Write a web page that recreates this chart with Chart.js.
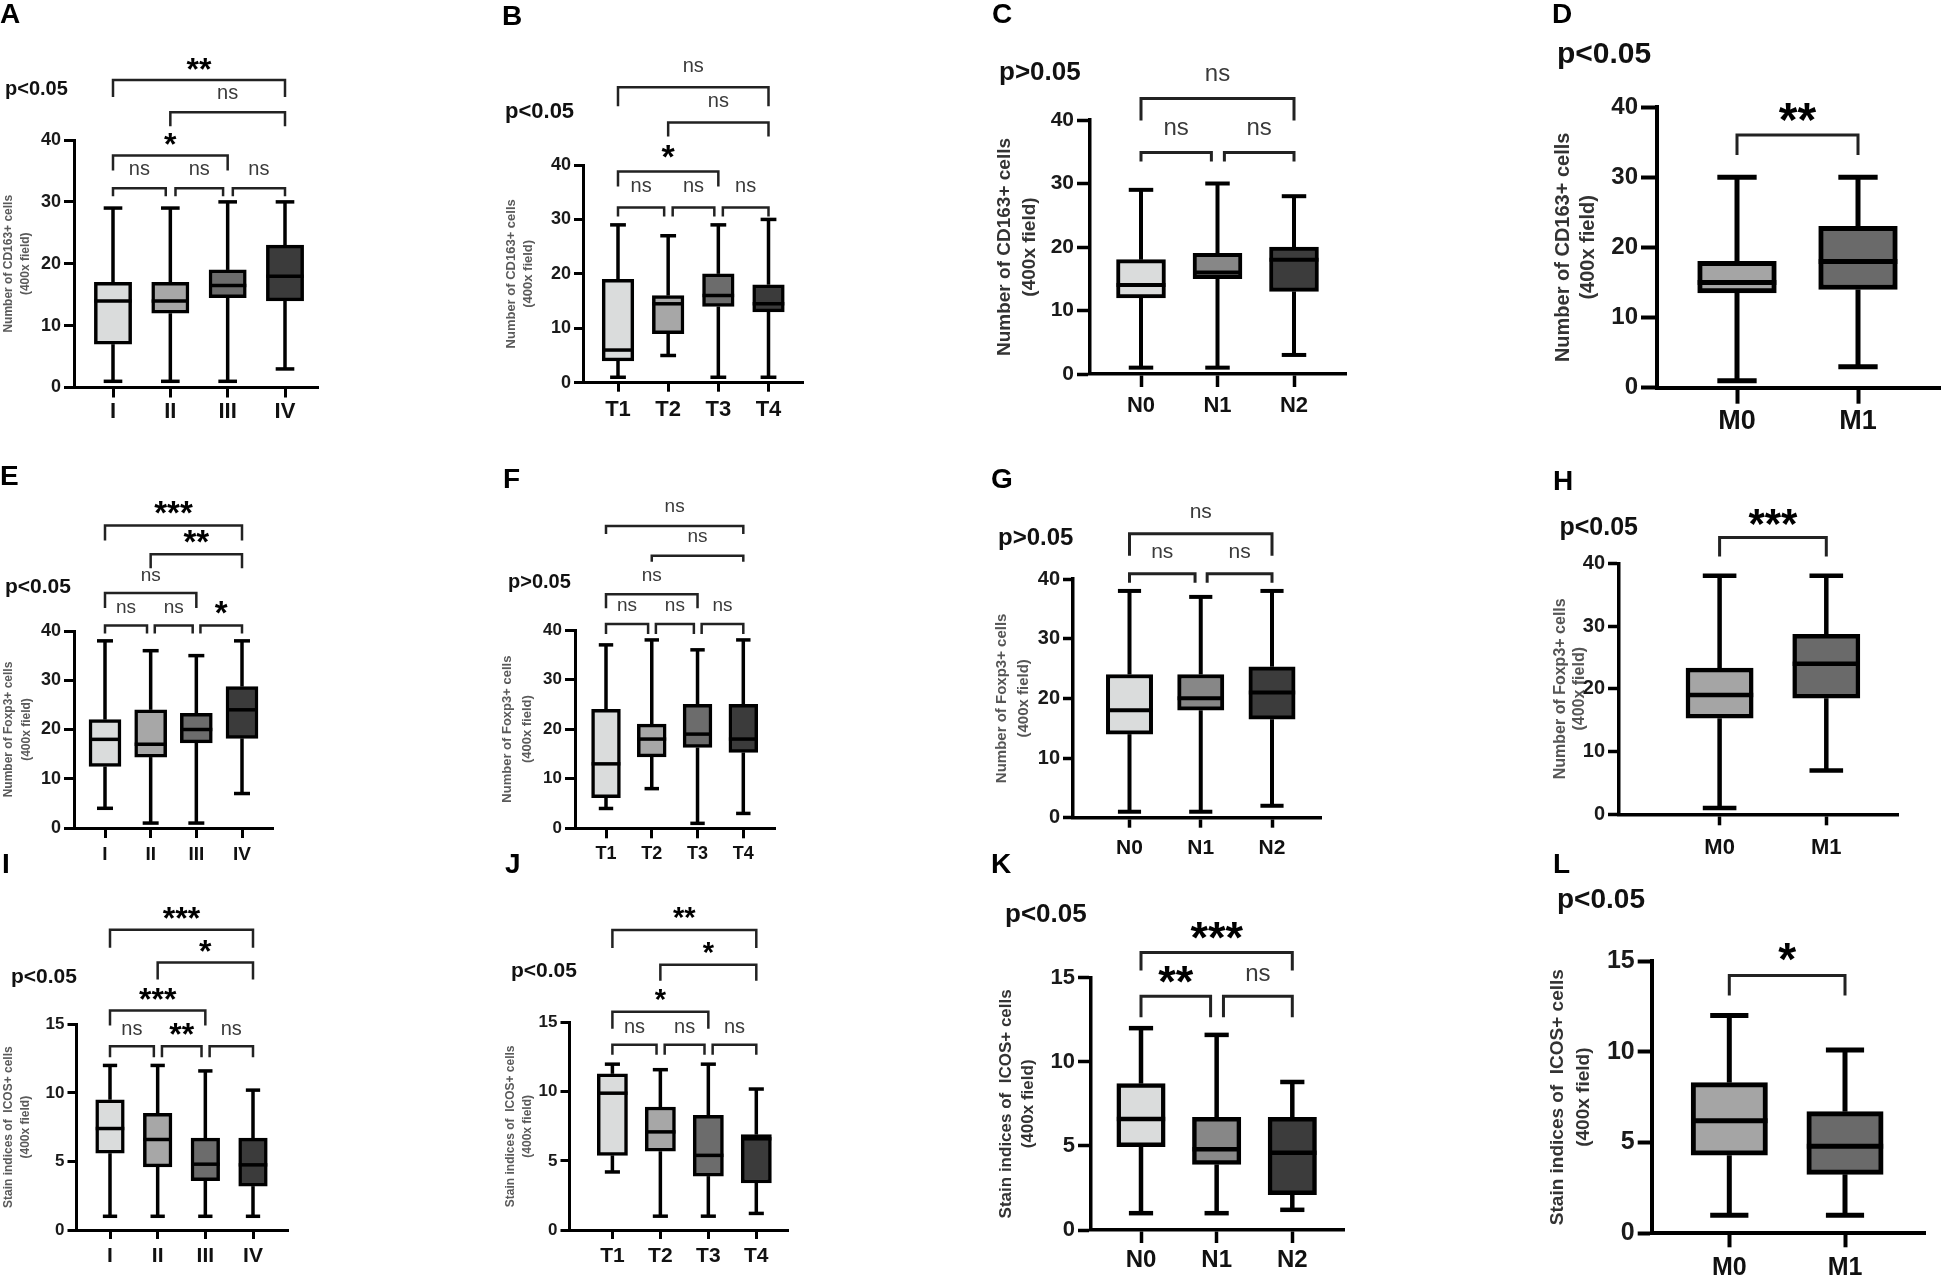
<!DOCTYPE html>
<html>
<head>
<meta charset="utf-8">
<script src="https://cdn.jsdelivr.net/npm/chart.js@4.4.1/dist/chart.umd.min.js"></script>
<style>
  body { margin: 0; background: #fff; width: 1944px; height: 1277px; position: relative; overflow: hidden; }
  canvas { position: absolute; }
</style>
</head>
<body>
<script>
// Box plots of CD163+, Foxp3+ and ICOS+ cells by stage / T / N / M
// every group is [min, q1, median, q3, max]

const stageLabels = ['I', 'II', 'III', 'IV'];
const tLabels = ['T1', 'T2', 'T3', 'T4'];
const nLabels = ['N0', 'N1', 'N2'];
const mLabels = ['M0', 'M1'];

const countTicks = [0, 10, 20, 30, 40];
const icosTicks = [0, 5, 10, 15];

const cd163Title = ['Number of CD163+ cells', '(400x field)'];
const foxTitle = ['Number of Foxp3+ cells', '(400x field)'];
const icosTitle = ['Stain indices of  ICOS+ cells', '(400x field)'];

const cd163Stage = [[1, 7, 14, 17, 29], [1, 12, 14, 17, 29], [1, 14.5, 16.5, 19, 30], [3, 14, 18, 23, 30]];
const cd163T = [[1, 4, 6, 19, 29], [5, 9, 14.5, 16, 27], [1, 14, 16, 20, 29], [1, 13, 14.5, 18, 30]];
const cd163N = [[1, 12, 14, 18, 29], [1, 15, 16, 19, 30], [3, 13, 18, 20, 28]];
const cd163M = [[1, 13.5, 15, 18, 30], [3, 14, 18, 23, 30]];

const foxStage = [[4, 12.5, 18, 22, 38], [1, 14.4, 17, 24, 36], [1, 17.3, 20, 23.3, 35], [7, 18.2, 24, 28.7, 38]];
const foxT = [[4, 6.2, 13, 24, 37], [8, 14.4, 18, 21, 38], [1, 16.3, 19, 25, 36], [3, 15.3, 18, 25, 38]];
const foxN = [[1, 14, 18, 24, 38], [1, 18, 20, 24, 37], [2, 16.5, 21, 25.3, 38]];
const foxM = [[1, 15.3, 19, 23.3, 38], [7, 18.5, 24, 28.7, 38]];

const icosStage = [[1, 5.6, 7.4, 9.5, 12], [1, 4.6, 6.6, 8.5, 12], [1, 3.6, 4.8, 6.7, 11.6], [1, 3.2, 4.75, 6.7, 10.2]];
const icosT = [[4.2, 5.4, 9.9, 11.3, 12], [1, 5.7, 7.1, 8.9, 11.6], [1, 3.9, 5.4, 8.3, 12], [1.2, 3.4, 6.6, 6.9, 10.2]];
const icosN = [[1, 4.95, 6.6, 8.7, 12], [1, 3.9, 4.8, 6.7, 11.6], [1.2, 2.1, 4.6, 6.7, 8.8]];
const icosM = [[1, 4.3, 6.2, 8.3, 12], [1, 3.25, 4.8, 6.7, 10.1]];

// significance brackets: [from group, to group, label, height in axis units]
const cd163StageSig = [[0, 3, '**', 49.7], [1, 3, 'ns', 44.5], [0, 2, '*', 37.5], [0, 1, 'ns', 32.2], [1, 2, 'ns', 32.2], [2, 3, 'ns', 32.2]];
const cd163TSig = [[0, 3, 'ns', 54.3], [1, 3, 'ns', 47.8], [0, 2, '*', 38.8], [0, 1, 'ns', 32.2], [1, 2, 'ns', 32.2], [2, 3, 'ns', 32.2]];
const cd163NSig = [[0, 2, 'ns', 43.4], [0, 1, 'ns', 34.9], [1, 2, 'ns', 34.9]];
const cd163MSig = [[0, 1, '**', 36]];
const foxStageSig = [[0, 3, '***', 61.4], [1, 3, '**', 55.6], [0, 2, 'ns', 47.7], [0, 1, 'ns', 41.1], [1, 2, 'ns', 41.1], [2, 3, '*', 41.1]];
const foxTSig = [[0, 3, 'ns', 61.0], [1, 3, 'ns', 55.0], [0, 2, 'ns', 47.2], [0, 1, 'ns', 41.2], [1, 2, 'ns', 41.2], [2, 3, 'ns', 41.2]];
const foxNSig = [[0, 2, 'ns', 47.6], [0, 1, 'ns', 40.9], [1, 2, 'ns', 40.9]];
const foxMSig = [[0, 1, '***', 44.1]];
const icosStageSig = [[0, 3, '***', 21.9], [1, 3, '*', 19.5], [0, 2, '***', 16.0], [0, 1, 'ns', 13.4], [1, 2, '**', 13.4], [2, 3, 'ns', 13.4]];
const icosTSig = [[0, 3, '**', 21.7], [1, 3, '*', 19.2], [0, 2, '*', 15.8], [0, 1, 'ns', 13.4], [1, 2, 'ns', 13.4], [2, 3, 'ns', 13.4]];
const icosNSig = [[0, 2, '***', 16.5], [0, 1, '**', 13.9], [1, 2, 'ns', 13.9]];
const icosMSig = [[0, 1, '*', 14.2]];

const fourFill = ['#dadcdc', '#a7a7a7', '#6c6c6c', '#3b3b3b'];
const threeFill = ['#dadcdc', '#878787', '#3c3c3c'];
const twoFill = ['#a5a5a5', '#6a6a6a'];

const FONT = "'Liberation Sans', Arial, Helvetica, sans-serif";
Chart.defaults.font.family = FONT;

// panel layout (page pixels)
const panels = [
  { letter: 'A', lpos: [0, 23], p: 'p<0.05', ppos: [5, 95], pf: 20, data: cd163Stage, labels: stageLabels, fill: fourFill, sig: cd163StageSig, legs: [17, 14, 15, 8, 8, 8],
    ticks: countTicks, title: cd163Title, canvas: [0, 0, 335, 440], axis: { x: 74, top: 140, bottom: 387.5, right: 318, cat0: 113, catN: 285 },
    yf: 18, xf: 22, tf: 12, tlh: 17, tpad: 0, tcol: '#5a5a5a', tl: 10, xpad: 1, lw: 3.5, alw: 3, blw: 2.5, box: 0.65, nsf: 20, stf: 32, nsOff: 18.5, stOff: 16 },
  { letter: 'B', lpos: [502, 25], p: 'p<0.05', ppos: [505, 118], pf: 22, data: cd163T, labels: tLabels, fill: fourFill, sig: cd163TSig, legs: [19, 14, 15, 9, 9, 9],
    ticks: countTicks, title: cd163Title, canvas: [495, 0, 320, 440], axis: { x: 583, top: 165, bottom: 382.7, right: 803, cat0: 618, catN: 768.5 },
    yf: 18, xf: 22, tf: 13, tlh: 17, tpad: 7.5, tcol: '#5a5a5a', tl: 9, xpad: 5, lw: 3.5, alw: 3, blw: 2.5, box: 0.63, nsf: 20, stf: 34, nsOff: 21, stOff: 20 },
  { letter: 'C', lpos: [992, 23], p: 'p>0.05', ppos: [999, 80], pf: 26, data: cd163N, labels: nLabels, fill: threeFill, sig: cd163NSig, legs: [22, 9, 9],
    ticks: countTicks, title: cd163Title, canvas: [985, 0, 375, 440], axis: { x: 1090, top: 120, bottom: 374, right: 1346, cat0: 1141, catN: 1294 },
    yf: 21, xf: 22, tf: 19, tlh: 25, tpad: 7.5, tcol: '#333', tl: 13, xpad: 6, lw: 4, alw: 3.5, blw: 3, box: 0.64, nsf: 24, stf: 40, nsOff: 23.5, stOff: 22 },
  { letter: 'D', lpos: [1552, 23], p: 'p<0.05', ppos: [1557, 63], pf: 30, data: cd163M, labels: mLabels, fill: twoFill, sig: cd163MSig, legs: [20],
    ticks: countTicks, title: cd163Title, canvas: [1545, 0, 399, 440], axis: { x: 1657, top: 107, bottom: 387.7, right: 1940, cat0: 1737, catN: 1858 },
    yf: 24, xf: 27, tf: 20, tlh: 25, tpad: 5.5, tcol: '#333', tl: 16, xpad: 2, lw: 5, alw: 4, blw: 3, box: 0.65, nsf: 26, stf: 48, nsOff: 23, stOff: 23 },

  { letter: 'E', lpos: [0, 485], p: 'p<0.05', ppos: [5, 593], pf: 21, data: foxStage, labels: stageLabels, fill: fourFill, sig: foxStageSig, legs: [15, 14, 15, 8, 8, 8],
    ticks: countTicks, title: foxTitle, canvas: [0, 455, 335, 420], axis: { x: 74, top: 631, bottom: 828, right: 273, cat0: 105, catN: 242 },
    yf: 18, xf: 19, tf: 12, tlh: 18, tpad: 0, tcol: '#5a5a5a', tl: 10, xpad: 5, lw: 3.5, alw: 3, blw: 2.5, box: 0.7, nsf: 19, stf: 33, nsOff: 17.5, stOff: 18 },
  { letter: 'F', lpos: [503, 488], p: 'p>0.05', ppos: [508, 588], pf: 20, data: foxT, labels: tLabels, fill: fourFill, sig: foxTSig, legs: [8, 6, 14, 10, 10, 10],
    ticks: countTicks, title: foxTitle, canvas: [495, 455, 320, 420], axis: { x: 575, top: 630, bottom: 828.3, right: 775, cat0: 606, catN: 743.3 },
    yf: 17, xf: 18, tf: 13, tlh: 19.5, tpad: 2.75, tcol: '#5a5a5a', tl: 10, xpad: 5, lw: 3.5, alw: 3, blw: 2.5, box: 0.63, nsf: 19, stf: 32, nsOff: 18.5, stOff: 18 },
  { letter: 'G', lpos: [991, 488], p: 'p>0.05', ppos: [998, 545], pf: 24, data: foxN, labels: nLabels, fill: threeFill, sig: foxNSig, legs: [22, 9, 9],
    ticks: countTicks, title: foxTitle, canvas: [985, 455, 375, 420], axis: { x: 1073, top: 579, bottom: 817.7, right: 1321, cat0: 1129.5, catN: 1272 },
    yf: 20, xf: 21, tf: 15, tlh: 22, tpad: 6, tcol: '#555', tl: 10, xpad: 8, lw: 4, alw: 3.5, blw: 3, box: 0.65, nsf: 21, stf: 40, nsOff: 21, stOff: 21 },
  { letter: 'H', lpos: [1553, 490], p: 'p<0.05', ppos: [1559.5, 535], pf: 25, data: foxM, labels: mLabels, fill: twoFill, sig: foxMSig, legs: [19],
    ticks: countTicks, title: foxTitle, canvas: [1545, 455, 399, 420], axis: { x: 1619, top: 563.3, bottom: 814.3, right: 1898.5, cat0: 1719.6, catN: 1826.3 },
    yf: 20, xf: 22, tf: 16, tlh: 19, tpad: 6.5, tcol: '#555', tl: 11, xpad: 9, lw: 4.5, alw: 3.5, blw: 3, box: 0.63, nsf: 22, stf: 42, nsOff: 21, stOff: 20.6 },

  { letter: 'I', lpos: [2, 873], p: 'p<0.05', ppos: [11, 983], pf: 21, data: icosStage, labels: stageLabels, fill: fourFill, sig: icosStageSig, legs: [18, 17, 15, 11, 11, 11],
    ticks: icosTicks, title: icosTitle, canvas: [0, 840, 335, 437], axis: { x: 76.5, top: 1024.3, bottom: 1230, right: 288, cat0: 110, catN: 253 },
    yf: 17, xf: 21, tf: 12, tlh: 17, tpad: 0.5, tcol: '#5a5a5a', tl: 9, xpad: 5, lw: 3.5, alw: 3, blw: 2.5, box: 0.6, nsf: 20, stf: 32, nsOff: 17, stOff: 17 },
  { letter: 'J', lpos: [505, 873], p: 'p<0.05', ppos: [511, 977], pf: 21, data: icosT, labels: tLabels, fill: fourFill, sig: icosTSig, legs: [18, 16, 17, 10, 10, 10],
    ticks: icosTicks, title: icosTitle, canvas: [495, 840, 320, 437], axis: { x: 569.5, top: 1022.7, bottom: 1230, right: 788.7, cat0: 612.4, catN: 756.3 },
    yf: 17, xf: 21, tf: 12, tlh: 17, tpad: 7.5, tcol: '#5a5a5a', tl: 9, xpad: 5, lw: 3.5, alw: 3, blw: 2.5, box: 0.63, nsf: 20, stf: 29, nsOff: 17.5, stOff: 17 },
  { letter: 'K', lpos: [991, 873], p: 'p<0.05', ppos: [1005, 922], pf: 26, data: icosN, labels: nLabels, fill: threeFill, sig: icosNSig, legs: [18, 21, 21],
    ticks: icosTicks, title: icosTitle, canvas: [985, 840, 375, 437], axis: { x: 1091, top: 977.7, bottom: 1230, right: 1344, cat0: 1141, catN: 1292.3 },
    yf: 22, xf: 24, tf: 17, tlh: 22, tpad: 10, tcol: '#333', tl: 13, xpad: 3, lw: 4.5, alw: 3.5, blw: 3, box: 0.64, nsf: 24, stf: 45, nsOff: 22, stOff: 22 },
  { letter: 'L', lpos: [1553, 873], p: 'p<0.05', ppos: [1557, 908], pf: 28, data: icosM, labels: mLabels, fill: twoFill, sig: icosMSig, legs: [20],
    ticks: icosTicks, title: icosTitle, canvas: [1545, 840, 399, 437], axis: { x: 1651.7, top: 961, bottom: 1233.3, right: 1925, cat0: 1729.3, catN: 1845 },
    yf: 25, xf: 25, tf: 19, tlh: 26, tpad: 0, tcol: '#333', tl: 14, xpad: 6, lw: 5, alw: 4, blw: 3, box: 0.66, nsf: 24, stf: 46, nsOff: 23, stOff: 23.3 }
];

// draw text so its ink is vertically centred on cy
function centerText(ctx, txt, x, cy) {
  const m = ctx.measureText(txt);
  ctx.fillText(txt, x, cy + (m.actualBoundingBoxAscent - m.actualBoundingBoxDescent) / 2);
}

function extras(p) {
  const [cx, cy] = p.canvas;
  return {
    id: 'extras' + p.letter,
    afterDatasetsDraw(chart) {
      const ctx = chart.ctx, ys = chart.scales.y;
      const bars = chart.getDatasetMeta(0).data;
      ctx.save();
      ctx.strokeStyle = '#000';
      ctx.lineWidth = p.lw;
      const seg = (x1, y1, x2, y2) => { ctx.beginPath(); ctx.moveTo(x1, y1); ctx.lineTo(x2, y2); ctx.stroke(); };
      bars.forEach((bar, i) => {
        const [mn, q1, md, q3, mx] = p.data[i];
        const x = bar.x, w = bar.width, c = w * 0.25;
        const yMx = ys.getPixelForValue(mx), yMn = ys.getPixelForValue(mn);
        seg(x, yMx, x, ys.getPixelForValue(q3));
        seg(x, ys.getPixelForValue(q1), x, yMn);
        seg(x - c, yMx, x + c, yMx);
        seg(x - c, yMn, x + c, yMn);
        const yMd = ys.getPixelForValue(md);
        seg(x - w / 2, yMd, x + w / 2, yMd);
      });
      ctx.restore();
    },
    afterDraw(chart) {
      const ctx = chart.ctx, xs = chart.scales.x, ys = chart.scales.y;
      const step = xs.getPixelForValue(1) - xs.getPixelForValue(0);
      ctx.save();
      // significance brackets
      p.sig.forEach(([i, j, label, level], k) => {
        let x1 = xs.getPixelForValue(i), x2 = xs.getPixelForValue(j);
        const shares = (a, b) => p.sig.some(s => s[0] === a && s[1] === b && s[3] === level);
        if (j - i === 1) {
          if (shares(i - 1, i)) x1 += step * 0.09;
          if (shares(j, j + 1)) x2 -= step * 0.08;
        }
        const y = ys.getPixelForValue(level), leg = p.legs[k];
        ctx.strokeStyle = '#222';
        ctx.lineWidth = p.blw;
        ctx.beginPath();
        ctx.moveTo(x1, y + leg); ctx.lineTo(x1, y); ctx.lineTo(x2, y); ctx.lineTo(x2, y + leg);
        ctx.stroke();
        ctx.textAlign = 'center';
        ctx.textBaseline = 'alphabetic';
        if (label.includes('*')) {
          ctx.fillStyle = '#000';
          ctx.font = 'bold ' + p.stf + 'px ' + FONT;
          centerText(ctx, label, (x1 + x2) / 2, y - p.stOff);
        } else {
          ctx.fillStyle = '#3a3a3a';
          ctx.font = p.nsf + 'px ' + FONT;
          centerText(ctx, label, (x1 + x2) / 2, y - p.nsOff);
        }
      });
      // panel letter and p value
      ctx.fillStyle = '#000';
      ctx.textAlign = 'left';
      ctx.textBaseline = 'alphabetic';
      ctx.font = 'bold 28px ' + FONT;
      ctx.fillText(p.letter, p.lpos[0] - cx, p.lpos[1] - cy);
      ctx.fillStyle = '#111';
      ctx.font = 'bold ' + p.pf + 'px ' + FONT;
      ctx.fillText(p.p, p.ppos[0] - cx, p.ppos[1] - cy);
      ctx.restore();
    }
  };
}

function makeChart(p) {
  const [cx, cy, cw, ch] = p.canvas;
  const a = p.axis;
  const cv = document.createElement('canvas');
  cv.width = cw;
  cv.height = ch;
  cv.style.left = cx + 'px';
  cv.style.top = cy + 'px';
  cv.style.width = cw + 'px';
  cv.style.height = ch + 'px';
  document.body.appendChild(cv);

  const n = p.labels.length;
  const step = (a.catN - a.cat0) / (n - 1);
  const xMin = -(a.cat0 - a.x) / step;
  const xMax = (n - 1) + (a.right - a.catN) / step;
  const yMax = p.ticks[p.ticks.length - 1];

  new Chart(cv, {
    type: 'bar',
    data: {
      datasets: [{
        data: p.data.map((g, i) => ({ x: i, y: [g[1], g[3]] })),
        backgroundColor: p.fill,
        borderColor: '#000',
        borderWidth: p.lw,
        borderSkipped: false,
        barThickness: step * p.box
      }]
    },
    options: {
      responsive: false,
      animation: false,
      events: [],
      layout: { padding: { left: 0, top: a.top - cy, right: cx + cw - a.right, bottom: 0 } },
      plugins: { legend: { display: false }, tooltip: { enabled: false } },
      scales: {
        x: {
          type: 'linear',
          offset: false,
          bounds: 'data',
          min: xMin,
          max: xMax,
          afterBuildTicks: s => {
            s.ticks = p.labels.map((_, i) => ({ value: i }));
            s.min = xMin;
            s.max = xMax;
          },
          afterFit: s => { s.height = cy + ch - a.bottom; },
          ticks: {
            callback: v => p.labels[v],
            font: { size: p.xf, weight: 'bold' },
            color: '#111',
            padding: p.xpad,
            autoSkip: false,
            maxRotation: 0
          },
          grid: { offset: false, drawOnChartArea: false, tickLength: p.tl, tickWidth: p.alw, color: '#000' },
          border: { color: '#000', width: p.alw }
        },
        y: {
          min: 0,
          max: yMax,
          afterBuildTicks: s => {
            s.ticks = p.ticks.map(v => ({ value: v }));
            s.min = 0;
            s.max = yMax;
          },
          afterFit: s => { s.width = a.x - cx; },
          ticks: { font: { size: p.yf, weight: 'bold' }, color: '#1a1a1a', padding: 3 },
          grid: { offset: false, drawOnChartArea: false, tickLength: p.tl, tickWidth: p.alw, color: '#000' },
          border: { color: '#000', width: p.alw },
          title: {
            display: true,
            text: p.title,
            color: p.tcol,
            font: { size: p.tf, weight: 'bold', lineHeight: p.tlh + 'px' },
            padding: { top: p.tpad, bottom: 0 }
          }
        }
      }
    },
    plugins: [extras(p)]
  });
}

panels.forEach(makeChart);
</script>
</body>
</html>
